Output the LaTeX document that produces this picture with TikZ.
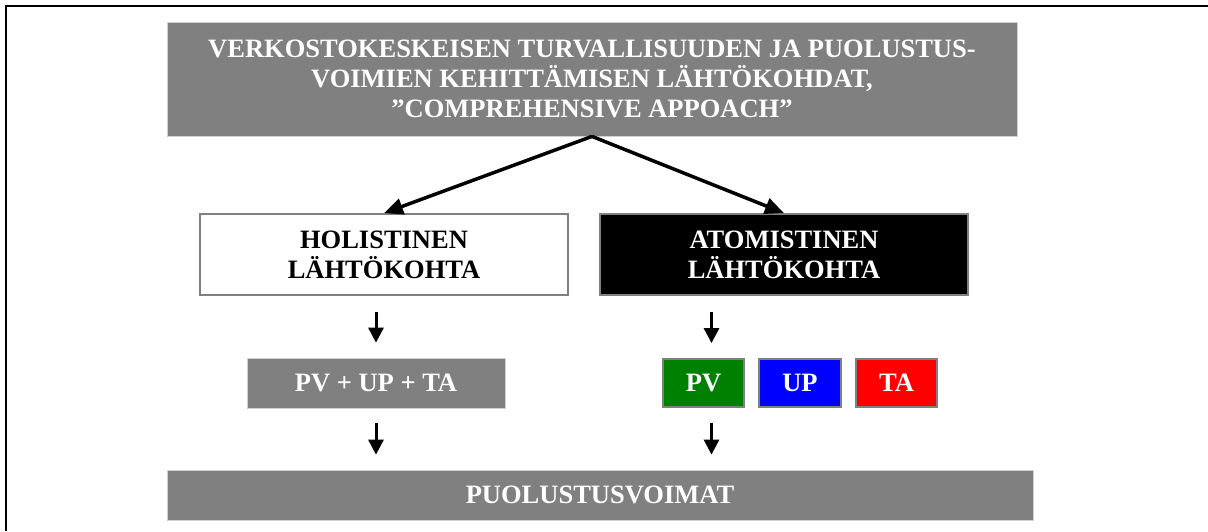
\documentclass[tikz,border=0pt]{standalone}
\usepackage{fontspec}
\setmainfont{Liberation Serif}
\usetikzlibrary{arrows.meta,calc}
\definecolor{boxgray}{HTML}{808080}
\definecolor{pvgreen}{HTML}{008000}
\definecolor{upblue}{HTML}{0000FF}
\definecolor{tared}{HTML}{FF0000}
\tikzset{
  box/.style={rectangle, inner sep=0pt, align=center,
    font=\fontsize{26.5}{30}\selectfont\bfseries},
  graybox/.style={box, fill=boxgray, draw=black!18, line width=0.8pt, text=white},
  framed/.style={box, draw=boxgray, line width=1.8pt},
  bigarrow/.style={line width=3.5pt, -{Triangle[length=19pt,width=16pt]}},
  smallarrow/.style={line width=3pt, -{Triangle[length=15pt,width=15pt]}}
}
\begin{document}
\begin{tikzpicture}[x=1pt,y=-1pt]
\useasboundingbox (0,0) rectangle (1208,531);
% outer frame: top and left edges only
\draw[line width=2pt] (1208,6) -| (6,531);

\node[graybox, minimum width=850pt, minimum height=114pt] (top) at (592,79)
  {VERKOSTOKESKEISEN TURVALLISUUDEN JA PUOLUSTUS-\\VOIMIEN KEHITTÄMISEN LÄHTÖKOHDAT,\\”COMPREHENSIVE APPOACH”};

\node[framed, fill=white, text=black, minimum width=368pt, minimum height=81pt] (hol) at (384,254.5)
  {HOLISTINEN\\LÄHTÖKOHTA};
\node[framed, fill=black, text=white, minimum width=368pt, minimum height=81pt] (atom) at (784,254.5)
  {ATOMISTINEN\\LÄHTÖKOHTA};

\node[graybox, minimum width=258pt, minimum height=50pt] (sum) at (376,383) {PV + UP + TA};
\node[framed, fill=pvgreen, text=white, minimum width=81pt, minimum height=48pt] (pv) at (703.5,383) {PV};
\node[framed, fill=upblue, text=white, minimum width=82pt, minimum height=48pt] (up) at (800,383) {UP};
\node[framed, fill=tared, text=white, minimum width=81pt, minimum height=48pt] (ta) at (896.5,383) {TA};

\node[graybox, minimum width=866pt, minimum height=50pt] (bot) at (600,495) {PUOLUSTUSVOIMAT};

% split of the starting points
\draw[bigarrow] (top.south) -- (hol.north);
\draw[bigarrow] (top.south) -- (atom.north);

% short downward arrows
\draw[smallarrow, shorten <=16pt, shorten >=15pt] (hol.south -| sum.north) -- (sum.north);
\draw[smallarrow, shorten <=15pt, shorten >=15pt] (sum.south) -- (sum.south |- bot.north);
\draw[smallarrow, shorten <=16pt, shorten >=15pt] ($(atom.south -| pv.north)+(8,0)$) -- ($(pv.north)+(8,0)$);
\draw[smallarrow, shorten <=15pt, shorten >=15pt] ($(pv.south)+(8,0)$) -- ($(pv.south |- bot.north)+(8,0)$);
\end{tikzpicture}
\end{document}
